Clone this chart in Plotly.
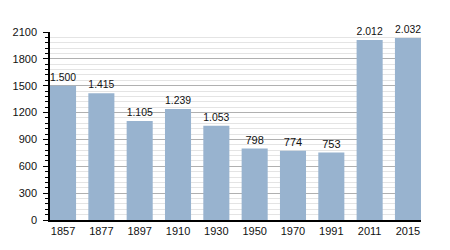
import plotly.graph_objects as go

years = ["1857", "1877", "1897", "1910", "1930", "1950", "1970", "1991", "2011", "2015"]
population = [1500, 1415, 1105, 1239, 1053, 798, 774, 753, 2012, 2032]
labels = ["1.500", "1.415", "1.105", "1.239", "1.053", "798", "774", "753", "2.012", "2.032"]
y_ticks = [0, 300, 600, 900, 1200, 1500, 1800, 2100]

fig = go.Figure(go.Bar(
    x=years, y=population, text=labels, textposition="outside",
    marker=dict(color="#98b3cf", line=dict(width=0)),
    textfont=dict(family="Liberation Sans, Arial", size=11, color="#111"),
    cliponaxis=False, width=0.68,
))
fig.update_layout(
    width=450, height=250,
    margin=dict(l=50, r=29, t=32, b=30),
    paper_bgcolor="white", plot_bgcolor="white",
    showlegend=False,
    font=dict(family="Liberation Sans, Arial", size=11, color="#111"),
)
fig.update_xaxes(
    type="category", range=[-0.34, 9.34],
    showline=True, linecolor="black", linewidth=1.5,
    ticks="", showgrid=False, tickfont=dict(size=11),
)
fig.update_yaxes(
    range=[0, 2100], tickvals=y_ticks,
    showline=True, linecolor="black", linewidth=1.5,
    ticks="outside", ticklen=5, tickcolor="black",
    ticklabelstandoff=4,
    showgrid=True, gridcolor="#b0b0b0", gridwidth=1,
    zeroline=False,
    minor=dict(dtick=60, tick0=0, showgrid=True, gridcolor="#e4e4e4", gridwidth=1,
               ticks="outside", ticklen=3, tickcolor="black"),
    tickfont=dict(size=11),
)
fig.write_html("out.html")
